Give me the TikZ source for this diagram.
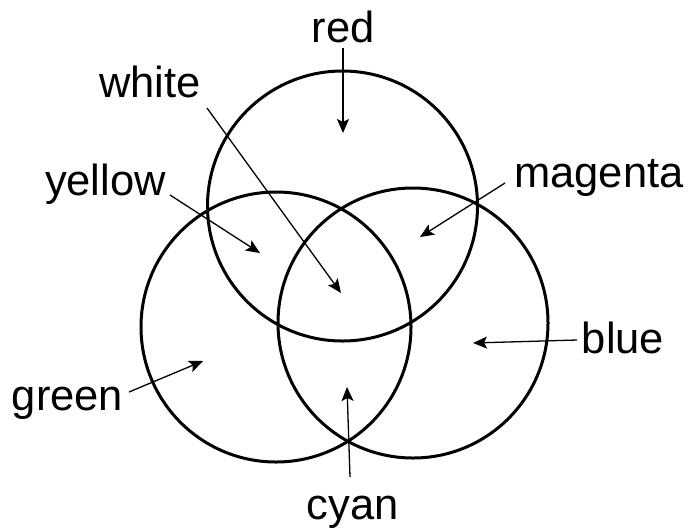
\documentclass[tikz,border=0pt]{standalone}
\usepackage{fontspec}
\setmainfont{Liberation Sans}
\usetikzlibrary{arrows.meta}
\begin{document}
\begin{tikzpicture}[x=1pt,y=-1pt,
  ring/.style={draw=black,line width=3pt,circle,minimum size=270pt,inner sep=0pt},
  lbl/.style={inner sep=0pt,anchor=base,font=\fontsize{43.5}{50}\selectfont},
  ptr/.style={line width=1.3pt,-{Stealth[length=14pt,width=12pt,inset=3pt]}}]
\useasboundingbox (0,0) rectangle (695,531);
% circles
\node[ring] (topc) at (342.5,206) {};
\node[ring] (leftc) at (276,327) {};
\node[ring] (rightc) at (413,323) {};
% labels
\node[lbl] (red) at (343,42) {red};
\node[lbl] (white) at (150,97) {white};
\node[lbl] (yellow) at (105.5,195) {yellow};
\node[lbl] (magenta) at (599,187) {magenta};
\node[lbl] (blue) at (623,353) {blue};
\node[lbl] (green) at (67.5,410) {green};
\node[lbl] (cyan) at (352.5,519) {cyan};
% arrow ends
\coordinate (redS) at (343,48);     \coordinate (redT) at (343,133);
\coordinate (whiteS) at (207,108);  \coordinate (whiteT) at (341,293);
\coordinate (yellowS) at (170,195); \coordinate (yellowT) at (260,253);
\coordinate (magentaS) at (505,183);\coordinate (magentaT) at (420,237);
\coordinate (blueS) at (577,340);   \coordinate (blueT) at (473,343);
\coordinate (greenS) at (129,392);  \coordinate (greenT) at (203,361);
\coordinate (cyanS) at (350,477);   \coordinate (cyanT) at (347,387);
% arrows
\draw[ptr] (redS) -- (redT);
\draw[ptr] (whiteS) -- (whiteT);
\draw[ptr] (yellowS) -- (yellowT);
\draw[ptr] (magentaS) -- (magentaT);
\draw[ptr] (blueS) -- (blueT);
\draw[ptr] (greenS) -- (greenT);
\draw[ptr] (cyanS) -- (cyanT);
\end{tikzpicture}
\end{document}
